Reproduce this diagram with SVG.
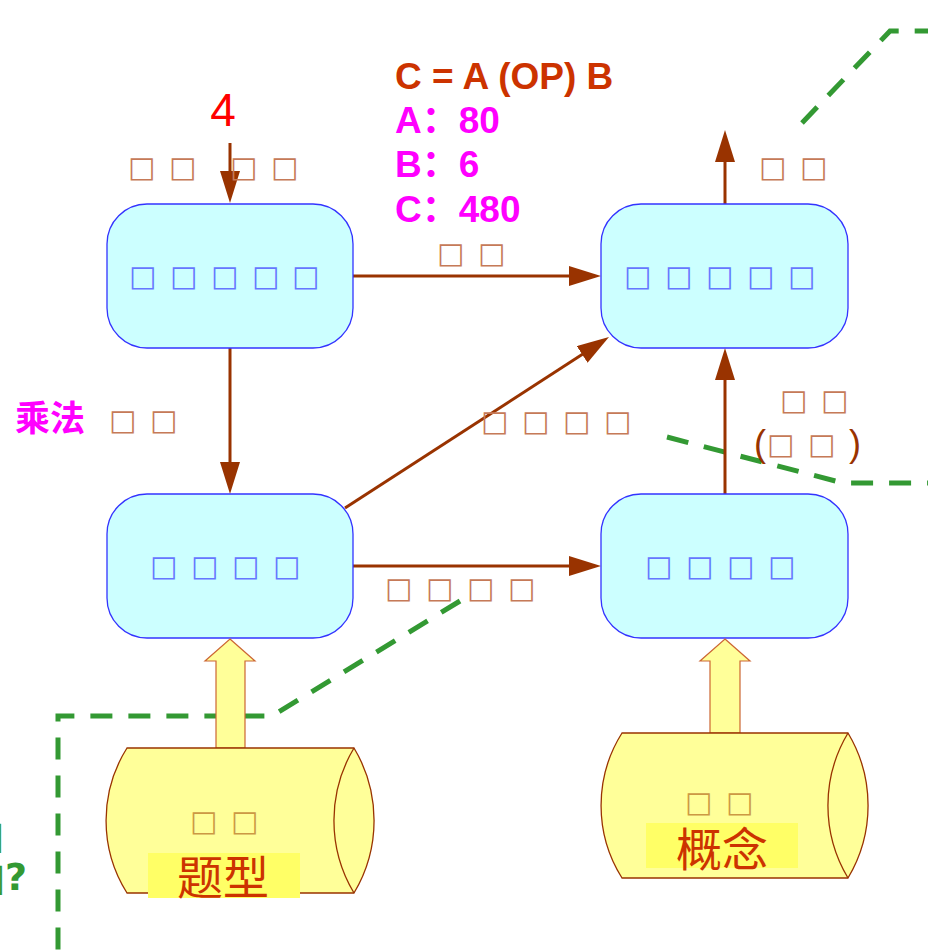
<svg xmlns="http://www.w3.org/2000/svg" width="928" height="951" viewBox="0 0 928 951">
  <defs>
    <marker id="head" markerUnits="userSpaceOnUse" markerWidth="34" markerHeight="22" refX="22" refY="10" orient="auto">
      <path d="M0,0 L32,10 L0,20 Z" fill="#993300"/>
    </marker>
    <style>
      .node rect { fill: #CCFFFF; stroke: #3333FF; stroke-width: 1.3; }
      .ntxt { font-family: "DejaVu Sans", sans-serif; font-size: 29px; fill: #6677FF; text-anchor: middle; }
      .lbl { font-family: "DejaVu Sans", sans-serif; font-size: 29px; fill: #C67A58; text-anchor: middle; }
      .clbl { font-family: "DejaVu Sans", sans-serif; font-size: 29px; fill: #CC9944; text-anchor: middle; }
      .conn line { stroke: #993300; stroke-width: 3; marker-end: url(#head); }
      .dash { fill: none; stroke: #339933; stroke-width: 5; stroke-dasharray: 22 16; }
      .cyl { fill: #FFFF99; stroke: #993300; stroke-width: 1.3; }
      .big { fill: #FFFF99; stroke: #CC6633; stroke-width: 1.2; }
      .formula { font-family: "Liberation Sans", "Noto Sans CJK SC", sans-serif; font-size: 37px; font-weight: bold; }
      .tag { font-family: "Noto Sans CJK SC", sans-serif; font-size: 46px; fill: #CC3300; text-anchor: middle; }
    </style>
  </defs>

  <!-- dashed boundary lines -->
  <g id="boundaries">
    <path class="dash" d="M802,123 L890,31 L928,31"/>
    <path class="dash" d="M667,437 L843,483 L928,483"/>
    <path class="dash" d="M460,601 L272,716 L58,716 L58,951"/>
  </g>

  <!-- connectors -->
  <g id="connectors" class="conn">
    <line x1="230" y1="143" x2="230" y2="193"/>
    <line x1="353" y1="276" x2="591" y2="276"/>
    <line x1="230" y1="348" x2="230" y2="484"/>
    <line x1="345" y1="508" x2="600.6" y2="342.5"/>
    <line x1="353" y1="566" x2="591" y2="566"/>
    <line x1="725" y1="494" x2="725" y2="358"/>
    <line x1="725" y1="204" x2="725" y2="140"/>
  </g>

  <!-- connector labels -->
  <g id="labels">
    <text x="223" y="126" font-family="Liberation Sans, sans-serif" font-size="46" fill="#FF0000" text-anchor="middle">4</text>
    <text class="lbl" x="142 183 244 285" y="177">□□□□</text>
    <text class="lbl" x="451 492" y="263">□□</text>
    <text x="50" y="431" font-family="Noto Sans CJK SC, sans-serif" font-size="35" font-weight="bold" fill="#FF00FF" text-anchor="middle">乘法</text>
    <text class="lbl" x="123 164" y="430">□□</text>
    <text class="lbl" x="495 536 577 618" y="431">□□□□</text>
    <text class="lbl" x="399 440 481 522" y="598">□□□□</text>
    <text class="lbl" x="794 835" y="410">□□</text>
    <text x="760" y="456" font-family="Liberation Sans, sans-serif" font-size="36" fill="#993300" text-anchor="middle">(</text>
    <text class="lbl" x="781 822" y="454">□□</text>
    <text x="855" y="456" font-family="Liberation Sans, sans-serif" font-size="36" fill="#993300" text-anchor="middle">)</text>
    <text class="lbl" x="773 814" y="177">□□</text>
  </g>

  <!-- formula -->
  <g id="formula" class="formula">
    <text x="395" y="89" fill="#CC3300">C = A (OP) B</text>
    <text x="395" y="133" fill="#FF00FF">A：80</text>
    <text x="395" y="177" fill="#FF00FF">B：6</text>
    <text x="395" y="222" fill="#FF00FF">C：480</text>
  </g>

  <!-- process nodes -->
  <g id="node-tl" class="node">
    <rect x="107" y="204" width="246" height="144" rx="40" ry="40"/>
    <text class="ntxt" x="143 184 225 266 306" y="286">□□□□□</text>
  </g>
  <g id="node-tr" class="node">
    <rect x="601" y="204" width="247" height="144" rx="40" ry="40"/>
    <text class="ntxt" x="638 679 720 761 802" y="286">□□□□□</text>
  </g>
  <g id="node-bl" class="node">
    <rect x="107" y="494" width="246" height="144" rx="40" ry="40"/>
    <text class="ntxt" x="164 205 246 287" y="576">□□□□</text>
  </g>
  <g id="node-br" class="node">
    <rect x="601" y="494" width="247" height="144" rx="40" ry="40"/>
    <text class="ntxt" x="659 700 741 782" y="576">□□□□</text>
  </g>

  <!-- data stores -->
  <g id="store-left">
    <path class="big" d="M230,639 L255,661 L245,661 L245,748 L216,748 L216,661 L205,661 Z"/>
    <path class="cyl" d="M127,748 H354 A141,141 0 0 1 354,893 H127 A136,136 0 0 1 127,748 Z"/>
    <path class="cyl" fill="none" d="M354,748 A141,141 0 0 0 354,893"/>
    <text class="clbl" x="204 245" y="831">□□</text>
    <rect x="148" y="853" width="152" height="45" fill="#FFFF66"/>
    <text class="tag" x="223" y="894">题型</text>
  </g>
  <g id="store-right">
    <path class="big" d="M725,639 L750,661 L740,661 L740,733 L710,733 L710,661 L700,661 Z"/>
    <path class="cyl" d="M622,733 H848 A141,141 0 0 1 848,878 H622 A136,136 0 0 1 622,733 Z"/>
    <path class="cyl" fill="none" d="M848,733 A141,141 0 0 0 848,878"/>
    <text class="clbl" x="699 740" y="812">□□</text>
    <rect x="646" y="823" width="152" height="45" fill="#FFFF66"/>
    <text class="tag" x="722" y="866">概念</text>
  </g>

  <!-- text running off the left edge -->
  <g id="edge-note" font-family="DejaVu Sans, sans-serif" font-size="38" font-weight="bold" fill="#339933" text-anchor="end">
    <text x="4" y="848">□</text>
    <text x="27" y="890">□?</text>
  </g>
</svg>
